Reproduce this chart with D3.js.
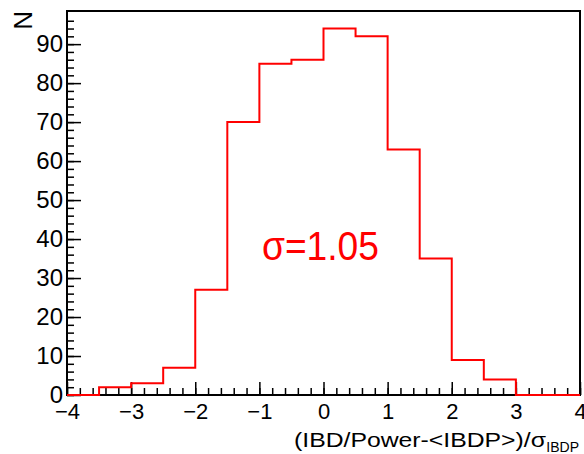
<!DOCTYPE html>
<html>
<head>
<meta charset="utf-8">
<script src="https://cdn.jsdelivr.net/npm/d3@7"></script>
<style>
  body { margin: 0; background: #fff; }
  svg { display: block; font-family: "Liberation Sans", Arial, sans-serif; }
</style>
</head>
<body>
<script>
// Histogram bins (lower edges) and counts
const binEdges = [-4, -3.5, -3, -2.5, -2, -1.5, -1, -0.5, 0, 0.5, 1, 1.5, 2, 2.5, 3, 3.5, 4];
const counts = [0, 2, 3, 7, 27, 70, 85, 86, 94, 92, 63, 35, 9, 4, 0, 0];
const xTicks = [-4, -3, -2, -1, 0, 1, 2, 3, 4];
const yTicks = [0, 10, 20, 30, 40, 50, 60, 70, 80, 90];

const W = 584, H = 454;
const margin = { top: 11, right: 4, bottom: 59, left: 67 };
const width = W - margin.left - margin.right;
const height = H - margin.top - margin.bottom;

const svg = d3.select("body").append("svg")
    .attr("width", W)
    .attr("height", H);

const g = svg.append("g")
    .attr("transform", `translate(${margin.left},${margin.top})`);

const x = d3.scaleLinear().domain([-4, 4]).range([0, width]);
const y = d3.scaleLinear().domain([0, 98.5]).range([height, 0]);

// minor ticks (every 0.2 on x, every 2 on y), pointing inward
const xMinor = d3.range(-4, 4.001, 0.2).map(v => +v.toFixed(1));
const yMinor = d3.range(0, 98, 2);

g.append("g")
    .attr("transform", `translate(0,${height})`)
    .call(d3.axisBottom(x).tickValues(xMinor).tickSize(-7).tickFormat(""))
    .call(a => a.select(".domain").remove());

g.append("g")
    .call(d3.axisLeft(y).tickValues(yMinor).tickSize(-7).tickFormat(""))
    .call(a => a.select(".domain").remove());

// major ticks with labels
const xAxis = g.append("g")
    .attr("transform", `translate(0,${height})`)
    .call(d3.axisBottom(x).tickValues(xTicks).tickSize(-13).tickPadding(8));
xAxis.select(".domain").remove();
xAxis.selectAll("text").attr("font-size", 22).attr("fill", "#000")
    .attr("font-family", "Liberation Sans, Arial, sans-serif");

const yAxis = g.append("g")
    .call(d3.axisLeft(y).tickValues(yTicks).tickSize(-14).tickPadding(4));
yAxis.select(".domain").remove();
yAxis.selectAll("text").attr("font-size", 24).attr("fill", "#000")
    .attr("font-family", "Liberation Sans, Arial, sans-serif");

g.selectAll(".tick line").attr("stroke", "#000").attr("stroke-width", 1.5);

// frame
g.append("rect")
    .attr("width", width)
    .attr("height", height)
    .attr("fill", "none")
    .attr("stroke", "#000")
    .attr("stroke-width", 2);

// histogram outline as a step path
const pts = [];
counts.forEach((c, i) => {
    pts.push([binEdges[i], c]);
    pts.push([binEdges[i + 1], c]);
});
const line = d3.line().x(d => x(d[0])).y(d => y(d[1]));

g.append("path")
    .attr("d", line(pts))
    .attr("fill", "none")
    .attr("stroke", "#ff0000")
    .attr("stroke-width", 2);

// sigma annotation
g.append("text")
    .attr("x", x(-0.96))
    .attr("y", y(34.7))
    .attr("font-size", 40)
    .attr("textLength", 117)
    .attr("lengthAdjust", "spacingAndGlyphs")
    .attr("fill", "#ff0000")
    .text("σ=1.05");

// axis titles
svg.append("text")
    .attr("x", 294)
    .attr("y", 447)
    .attr("font-size", 21)
    .attr("textLength", 252)
    .attr("lengthAdjust", "spacingAndGlyphs")
    .attr("fill", "#000")
    .text("(IBD/Power-<IBDP>)/σ");
svg.append("text")
    .attr("x", 579)
    .attr("y", 452)
    .attr("text-anchor", "end")
    .attr("font-size", 14)
    .attr("fill", "#000")
    .text("IBDP");

svg.append("text")
    .attr("transform", `translate(32,${margin.top}) rotate(-90)`)
    .attr("text-anchor", "end")
    .attr("font-size", 26)
    .attr("fill", "#000")
    .text("N");
</script>
</body>
</html>
